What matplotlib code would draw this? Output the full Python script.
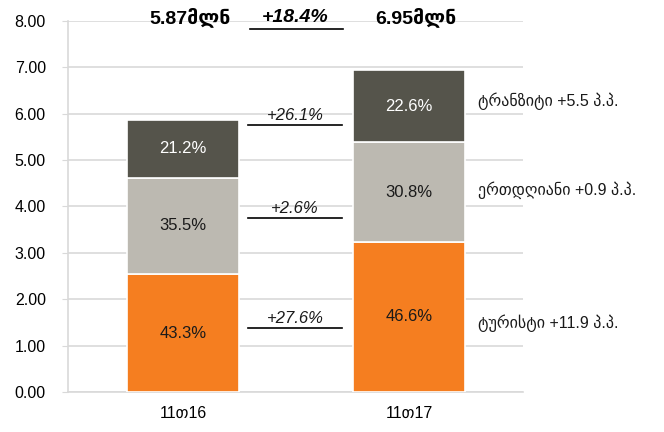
import numpy as np
import matplotlib.pyplot as plt

plt.rcParams['font.family'] = ['Liberation Sans', 'DejaVu Sans']

# Data
categories = ['11თ16', '11თ17']
tourist = [2.54, 3.24]
oneday = [2.08, 2.14]
transit = [1.24, 1.57]
share_tourist = ['43.3%', '46.6%']
share_oneday = ['35.5%', '30.8%']
share_transit = ['21.2%', '22.6%']
totals = ['5.87მლნ', '6.95მლნ']
total_growth = '+18.4%'
seg_growth = ['+27.6%', '+2.6%', '+26.1%']
right_labels = ['ტურისტი +11.9 პ.პ.', 'ერთდღიანი +0.9 პ.პ.', 'ტრანზიტი +5.5 პ.პ.']

colors = ['#f57e20', '#bcb9b1', '#55544b']
text_colors = ['#1a1a1a', '#1a1a1a', 'white']

fig = plt.figure(figsize=(6.64, 4.32), dpi=100)
ax = fig.add_axes([0.1024, 0.0926, 0.6853, 0.8588])

x = np.arange(len(categories))
w = 0.495
series = [tourist, oneday, transit]
shares = [share_tourist, share_oneday, share_transit]
bottom = np.zeros(len(categories))
for vals, col, tc, sh in zip(series, colors, text_colors, shares):
    vals = np.array(vals)
    ax.bar(x, vals, w, bottom=bottom, color=col, edgecolor='white', linewidth=1.2, zorder=3)
    for i in range(len(x)):
        ax.text(x[i], bottom[i] + vals[i] / 2, sh[i], ha='center', va='center',
                fontsize=12, color=tc, zorder=4)
    bottom = bottom + vals

# growth labels between bars
line_y = [1.38, 3.75, 5.75]
for g, ly in zip(seg_growth, line_y):
    ax.plot([0.288, 0.704], [ly, ly], color='black', lw=1.2, zorder=4)
    ax.text(0.496, ly + 0.04, g, ha='center', va='bottom', fontsize=12,
            style='italic', color='#1a1a1a')

# totals on top
for i in range(len(x)):
    ax.text(x[i] + 0.03, 8.08, totals[i], ha='center', va='center', fontsize=14,
            fontweight='bold', clip_on=False)
ax.text(0.496, 8.08, total_growth, ha='center', va='center', fontsize=14,
        fontweight='bold', style='italic', clip_on=False)
ax.plot([0.296, 0.708], [7.82, 7.82], color='black', lw=1.2, clip_on=False, zorder=4)

# right side labels
right_y = [1.49, 4.35, 6.27]
for lab, ry in zip(right_labels, right_y):
    ax.text(1.305, ry, lab, ha='left', va='center', fontsize=11.5, clip_on=False,
            color='#1a1a1a')

ax.set_xlim(-0.509, 1.504)
ax.set_ylim(0, 8)
ax.set_yticks(np.arange(0, 9, 1))
ax.set_yticklabels([f'{v:.2f}' for v in np.arange(0, 9, 1)])
ax.set_xticks(x)
ax.set_xticklabels(categories)
ax.tick_params(axis='x', length=0, pad=10, labelsize=11.5)
ax.tick_params(axis='y', length=4, color='#d9d9d9', pad=12, labelsize=11.5)
ax.grid(axis='y', color='#d9d9d9', lw=1.2, zorder=0)
for s in ['top', 'right']:
    ax.spines[s].set_visible(False)
ax.spines['left'].set_color('#d9d9d9')
ax.spines['bottom'].set_color('#d9d9d9')
ax.spines['left'].set_linewidth(1.2)
ax.spines['bottom'].set_linewidth(1.2)

plt.savefig('out.png', dpi=100)
